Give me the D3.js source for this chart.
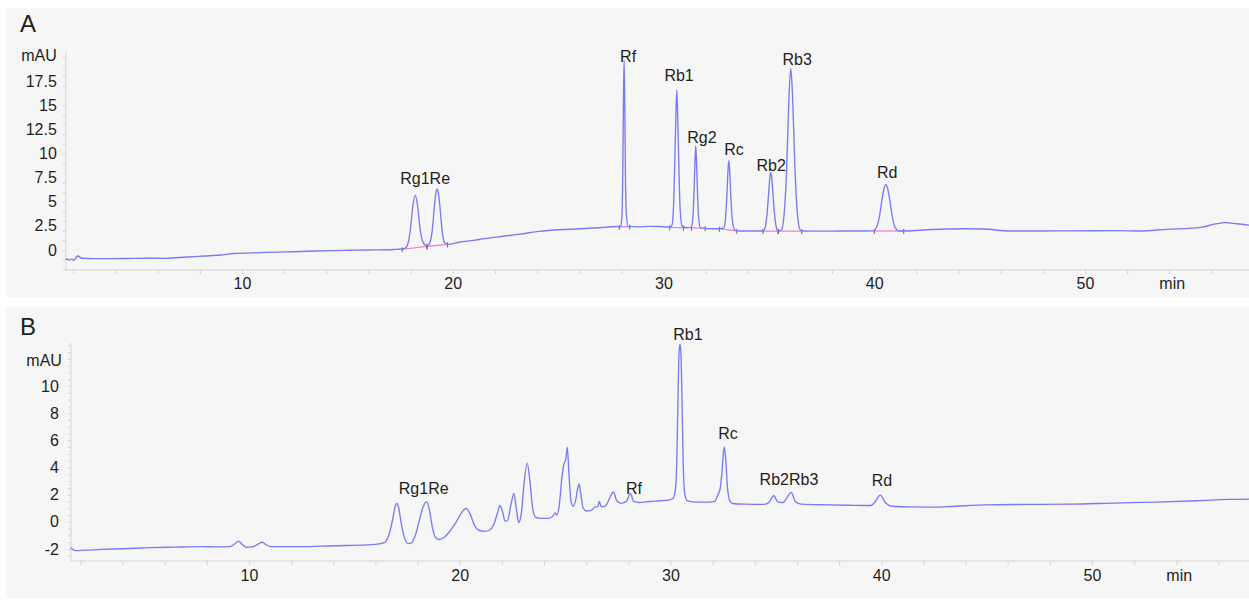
<!DOCTYPE html>
<html><head><meta charset="utf-8">
<script src="https://cdn.jsdelivr.net/npm/d3@7"></script>
<style>
body{margin:0;background:#fff}
svg{display:block}
text{font-family:"Liberation Sans",Arial,sans-serif;fill:#1e1e1e}
</style>
</head><body>
<svg id="c" width="1249" height="603"></svg>
<script>
// ---------- data ----------
const panelLetters = ["A", "B"];
const xTickValues = [10, 20, 30, 40, 50];
const xUnit = "min";
const yUnit = "mAU";
const yTicksA = [0, 2.5, 5, 7.5, 10, 12.5, 15, 17.5];
const yTicksB = [-2, 0, 2, 4, 6, 8, 10];

// Panel A: standard mixture chromatogram [time (min), signal (mAU)]
const traceA = [
[1.64,-1.0],[1.72,-0.93],[1.8,-1.08],[1.9,-0.95],[2.02,-1.05],[2.2,-0.62],[2.4,-0.85],[3.0,-0.9],[4.5,-0.88],[5.5,-0.85],[6.4,-0.86],[7.4,-0.72],[8.2,-0.62],[9.0,-0.52],[9.6,-0.36],[10.5,-0.3],[11.2,-0.24],[12.0,-0.2],[12.75,-0.16],[13.5,-0.1],[14.3,-0.06],[15.1,-0.03],[15.9,0.0],[16.6,0.02],[17.2,0.05],[17.6,0.1],
[17.75,0.2],[17.88,0.7],[18.0,2.3],[18.11,4.6],[18.22,5.69],[18.33,4.6],[18.44,2.4],[18.56,0.95],[18.7,0.5],[18.8,0.45],
[18.92,0.8],[19.02,1.9],[19.12,4.3],[19.2,5.9],[19.26,6.3],[19.32,5.9],[19.4,4.3],[19.5,1.9],[19.6,0.8],[19.75,0.58],
[20.3,0.8],[21.0,1.0],[21.5,1.17],[22.3,1.4],[23.2,1.64],[24.0,1.9],[24.8,2.07],[25.6,2.15],[26.5,2.25],[27.2,2.35],[27.8,2.43],
[27.98,2.42],[28.03,3.6],[28.07,8.5],[28.1,15.5],[28.13,19.67],[28.16,15.5],[28.19,8.5],[28.24,3.6],[28.32,2.45],
[28.8,2.4],[29.3,2.45],[29.8,2.43],[30.3,2.38],
[30.4,2.55],[30.47,4.2],[30.53,8.6],[30.59,14.2],[30.63,16.56],[30.67,14.2],[30.73,8.6],[30.79,4.2],[30.88,2.5],[31.1,2.3],
[31.32,2.35],[31.4,3.6],[31.46,6.8],[31.5,9.6],[31.53,10.77],[31.56,9.6],[31.6,6.8],[31.66,3.6],[31.75,2.3],
[32.1,2.22],[32.6,2.2],[32.85,2.25],
[32.92,2.8],[33.0,5.3],[33.06,8.2],[33.1,9.25],[33.14,8.2],[33.2,5.3],[33.28,2.8],[33.4,2.05],[33.6,1.97],
[34.2,1.97],[34.7,1.97],
[34.82,2.3],[34.92,3.9],[35.0,6.2],[35.05,7.6],[35.09,8.0],[35.13,7.6],[35.18,6.2],[35.26,3.9],[35.36,2.3],[35.45,1.95],
[35.6,2.1],[35.72,3.6],[35.84,8.2],[35.95,15.6],[36.04,18.8],[36.13,15.6],[36.24,8.2],[36.36,3.6],[36.48,2.1],[36.6,1.97],
[37.5,1.95],[38.5,1.97],[39.5,1.97],[39.95,1.98],
[40.1,2.3],[40.25,3.5],[40.38,5.4],[40.48,6.5],[40.55,6.8],[40.62,6.5],[40.72,5.4],[40.85,3.5],[41.0,2.3],[41.2,1.97],
[41.55,1.97],[42.5,2.1],[43.45,2.17],[44.3,2.2],[45.2,2.17],[46.45,1.97],[48,1.97],[49.5,1.98],[51.5,2.0],[52.5,1.97],[53.9,2.14],[55.5,2.35],[56.2,2.7],[56.65,2.83],[57.2,2.72],[57.9,2.55]
];

// Panel A integration baselines [t0, v0, t1, v1]
const integA = [
[17.6,0.08,18.78,0.38],[18.78,0.38,19.75,0.58],[27.9,2.4,28.4,2.42],[30.3,2.35,30.95,2.3],
[31.33,2.3,31.98,2.25],[32.65,2.2,33.48,1.98],[34.72,1.96,35.44,1.95],[35.44,1.95,36.56,1.95],[40.0,1.97,41.4,1.97]
];

// Panel B: sample chromatogram
const traceB = [
[1.55,-1.9],[1.65,-2.05],[1.8,-2.12],[2.2,-2.08],[3.0,-2.03],[4.0,-1.98],[5.3,-1.9],[6.5,-1.86],[7.7,-1.83],[8.5,-1.84],[9.1,-1.82],[9.3,-1.65],[9.5,-1.42],[9.7,-1.7],[9.9,-1.88],[10.2,-1.83],[10.45,-1.62],[10.63,-1.5],[10.82,-1.7],[11.05,-1.83],[12.5,-1.83],[14.0,-1.76],[15.6,-1.7],[16.2,-1.62],
[16.45,-1.5],[16.65,-0.9],[16.82,0.2],[16.93,1.1],[17.01,1.36],[17.1,1.05],[17.22,-0.1],[17.38,-1.2],[17.55,-1.6],[17.7,-1.55],
[17.88,-1.05],[18.05,-0.1],[18.25,1.05],[18.43,1.48],[18.56,0.9],[18.7,-0.4],[18.85,-1.15],[19.0,-1.3],
[19.25,-1.15],[19.5,-0.75],[19.8,-0.1],[20.1,0.7],[20.3,0.99],[20.5,0.55],[20.7,-0.25],[20.9,-0.62],[21.2,-0.7],[21.4,-0.62],
[21.6,-0.25],[21.78,0.6],[21.91,1.2],[22.03,0.75],[22.15,0.05],[22.27,0.1],[22.42,1.2],[22.57,2.1],[22.68,1.0],[22.8,-0.05],[22.92,0.6],[23.05,2.8],[23.2,4.3],[23.33,3.0],[23.46,1.0],[23.6,0.35],[23.8,0.26],[24.2,0.26],[24.42,0.42],[24.52,0.66],[24.6,0.5],[24.72,1.2],[24.85,3.3],[24.95,4.3],[25.03,4.6],[25.1,5.5],[25.18,3.6],[25.28,1.5],[25.38,1.15],[25.5,1.6],[25.6,2.5],[25.66,2.8],[25.74,2.1],[25.86,1.0],[26.0,0.8],[26.25,0.85],[26.42,1.1],[26.55,1.1],[26.62,1.5],[26.72,1.1],[26.9,1.15],[27.1,1.7],[27.29,2.2],[27.45,1.55],[27.65,1.36],[27.9,1.5],[28.1,2.1],[28.25,1.5],[28.5,1.42],[29.0,1.5],[29.5,1.55],[29.9,1.6],[30.1,1.7],
[30.22,2.2],[30.3,4.5],[30.36,9.5],[30.41,12.6],[30.45,13.07],[30.49,12.6],[30.54,9.5],[30.6,4.5],[30.68,2.0],[30.8,1.55],[31.3,1.45],[31.8,1.45],[32.1,1.5],
[32.25,2.0],[32.35,2.4],[32.44,3.6],[32.51,5.1],[32.56,5.5],[32.62,4.6],[32.7,2.6],[32.8,1.6],[32.95,1.35],[33.5,1.3],[34.4,1.28],[34.65,1.4],[34.9,1.92],[35.1,1.45],[35.35,1.42],[35.55,1.85],[35.73,2.17],[35.92,1.5],[36.2,1.3],[37.5,1.25],[38.5,1.22],[39.5,1.2],[39.7,1.45],[39.95,1.97],[40.2,1.4],[40.5,1.15],[41.5,1.1],[42.5,1.08],[43.5,1.15],[45.0,1.25],[47.0,1.28],[49.0,1.3],[51.0,1.38],[53.0,1.45],[55.0,1.55],[56.5,1.65],[57.8,1.68]
];

// peak labels [text, time, signal at text baseline]
const labelsA = [["Rg1Re",18.69,6.83],["Rf",28.32,19.42],["Rb1",30.74,17.45],["Rg2",31.82,11.13],["Rc",33.35,9.84],["Rb2",35.11,8.18],["Rb3",36.34,19.16],["Rd",40.61,7.5]];
const labelsB = [["Rg1Re",18.29,2.05],["Rf",28.27,2.05],["Rb1",30.83,13.42],["Rc",32.73,6.1],["Rb2Rb3",35.62,2.71],["Rd",40.03,2.64]];

// ---------- drawing ----------
const svg = d3.select("#c");
const W = 1249;
const lineColor = "#7a7af6";
const axisColor = "#d4d4d4";

function panel(cfg){
  const g = svg.append("g");
  g.append("rect").attr("x",6).attr("y",cfg.top).attr("width",W-6).attr("height",cfg.bottom-cfg.top).attr("fill","#f6f6f6");
  const x = d3.scaleLinear().domain([10,50]).range(cfg.xr);
  const y = d3.scaleLinear().domain(cfg.yd).range(cfg.yr);
  const x0 = x(cfg.tStart);
  g.append("line").attr("x1",x0).attr("x2",W).attr("y1",cfg.axisY).attr("y2",cfg.axisY).attr("stroke",axisColor);
  g.append("line").attr("x1",x0).attr("x2",x0).attr("y1",cfg.axisTop).attr("y2",cfg.axisY).attr("stroke",axisColor);
  const mx = d3.range(2,58,2);
  g.append("g").attr("transform",`translate(0,${cfg.axisY})`)
    .call(d3.axisBottom(x).tickValues(mx).tickSize(4).tickFormat(""))
    .call(s=>{s.select(".domain").remove();s.selectAll("line").attr("stroke",axisColor);});
  const my = d3.range(Math.ceil(y.invert(cfg.axisY)/cfg.yMinor)*cfg.yMinor, y.invert(cfg.axisTop), cfg.yMinor);
  g.append("g").attr("transform",`translate(${x0},0)`)
    .call(d3.axisLeft(y).tickValues(my).tickSize(3).tickFormat(""))
    .call(s=>{s.select(".domain").remove();s.selectAll("line").attr("stroke",axisColor);});
  g.append("g").attr("transform",`translate(0,${cfg.axisY})`)
    .call(d3.axisBottom(x).tickValues(xTickValues).tickSize(0).tickPadding(cfg.xPad).tickFormat(d=>String(d)))
    .call(s=>{s.select(".domain").remove();s.selectAll("text").attr("font-size",16).attr("font-family","Liberation Sans, Arial, sans-serif").attr("fill","#1e1e1e");});
  g.append("text").attr("x",x(54.14)).attr("y",cfg.axisY+cfg.xPad).attr("dy","0.71em").attr("text-anchor","middle").attr("font-size",16).text(xUnit);
  g.append("g").attr("transform",`translate(${x0},0)`)
    .call(d3.axisLeft(y).tickValues(cfg.yTicks).tickSize(0).tickPadding(cfg.yPad).tickFormat(d=>String(d)))
    .call(s=>{s.select(".domain").remove();s.selectAll("text").attr("font-size",16).attr("font-family","Liberation Sans, Arial, sans-serif").attr("fill","#1e1e1e");});
  g.append("text").attr("x",x0-cfg.unitPad).attr("y",cfg.unitY).attr("text-anchor","end").attr("font-size",16).text(yUnit);
  g.append("text").attr("x",20).attr("y",cfg.letterY).attr("font-size",24).text(cfg.letter);
  if (cfg.integ){
    g.append("g").selectAll("line").data(cfg.integ).join("line")
      .attr("x1",d=>x(d[0])).attr("y1",d=>y(d[1])).attr("x2",d=>x(d[2])).attr("y2",d=>y(d[3]))
      .attr("stroke","#f07ad8").attr("stroke-width",1.2);
    const ends = cfg.integ.flatMap(d=>[[d[0],d[1]],[d[2],d[3]]]);
    g.append("g").selectAll("line").data(ends).join("line")
      .attr("x1",d=>x(d[0])).attr("x2",d=>x(d[0])).attr("y1",d=>y(d[1])-2).attr("y2",d=>y(d[1])+3)
      .attr("stroke","#555").attr("stroke-width",0.9);
  }
  const line = d3.line().x(d=>x(d[0])).y(d=>y(d[1])).curve(d3.curveMonotoneX);
  g.append("path").datum(cfg.trace).attr("d",line).attr("fill","none").attr("stroke",lineColor).attr("stroke-width",1.35).attr("stroke-linejoin","round");
  g.append("g").selectAll("text").data(cfg.labels).join("text")
    .attr("x",d=>x(d[1])).attr("y",d=>y(d[2])).attr("text-anchor","middle").attr("font-size",16).text(d=>d[0]);
}

panel({letter:panelLetters[0], top:8, bottom:297, xr:[242,1085], yd:[0,17.5], yr:[250,81], tStart:1.64,
  axisY:270, axisTop:52, yMinor:1, xPad:8, yPad:9, unitPad:9, unitY:61, letterY:32,
  yTicks:yTicksA, trace:traceA, labels:labelsA, integ:integA});
panel({letter:panelLetters[1], top:307, bottom:598, xr:[249,1092], yd:[-2,10], yr:[549,386], tStart:1.55,
  axisY:561, axisTop:343, yMinor:0.5, xPad:9, yPad:12, unitPad:9, unitY:366, letterY:335,
  yTicks:yTicksB, trace:traceB, labels:labelsB});
</script>
</body></html>
